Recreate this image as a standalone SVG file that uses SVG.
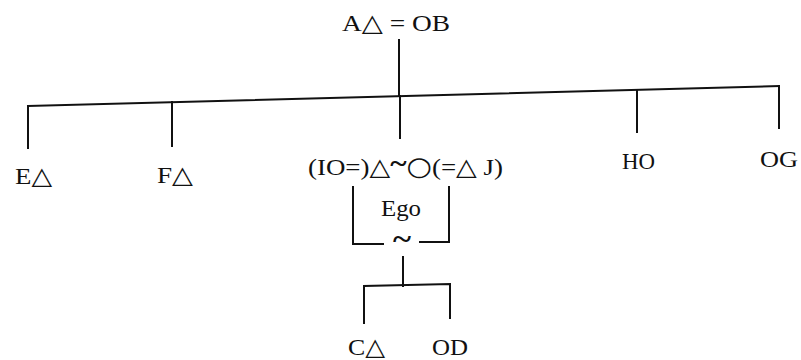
<svg xmlns="http://www.w3.org/2000/svg" width="801" height="360" viewBox="0 0 801 360">
<style>
text{font-family:"Liberation Serif","DejaVu Serif",serif;font-size:24px;fill:#111;}
.ln{stroke:#111;stroke-width:2;fill:none;stroke-linecap:square;}
.tl{font-size:30px;font-weight:bold;}
.big{font-size:26px;font-family:"DejaVu Sans",sans-serif;}
.sw{font-size:28px;font-weight:bold;}
</style>
<rect width="801" height="360" fill="#fff"/>
<g id="connectors">
<path class="ln" d="M399,40 V96"/>
<path class="ln" d="M28,106 L779,86"/>
<path class="ln" d="M28,106 V148"/>
<path class="ln" d="M172,102 V146"/>
<path class="ln" d="M400,96 V138"/>
<path class="ln" d="M637,90 V132"/>
<path class="ln" d="M779,86 V128"/>
<path class="ln" d="M353,187 V244 H383"/>
<path class="ln" d="M449,187 V242 H420"/>
<path class="ln" d="M403,257 V286"/>
<path class="ln" d="M364,323 V286 L450,284 V318"/>
</g>
<g id="node-AB"><text x="342" y="31" textLength="108" lengthAdjust="spacingAndGlyphs">A△ = OB</text></g>
<g id="node-E"><text x="15" y="184" textLength="37" lengthAdjust="spacingAndGlyphs">E△</text></g>
<g id="node-F"><text x="157" y="183" textLength="36" lengthAdjust="spacingAndGlyphs">F△</text></g>
<g id="node-ego-couple"><text x="308" y="175" textLength="195" lengthAdjust="spacingAndGlyphs">(IO=)△<tspan dy="-3" class="sw">~</tspan><tspan dy="3" class="big">○</tspan>(=△ J)</text></g>
<g id="node-H"><text x="622" y="169" textLength="33" lengthAdjust="spacingAndGlyphs">HO</text></g>
<g id="node-G"><text x="760" y="167" textLength="38" lengthAdjust="spacingAndGlyphs">OG</text></g>
<g id="node-ego"><text x="381" y="216" textLength="40" lengthAdjust="spacingAndGlyphs">Ego</text><text class="tl" x="393" y="249" textLength="18" lengthAdjust="spacingAndGlyphs">~</text></g>
<g id="node-C"><text x="348" y="355" textLength="37" lengthAdjust="spacingAndGlyphs">C△</text></g>
<g id="node-D"><text x="432" y="355" textLength="36" lengthAdjust="spacingAndGlyphs">OD</text></g>
</svg>
